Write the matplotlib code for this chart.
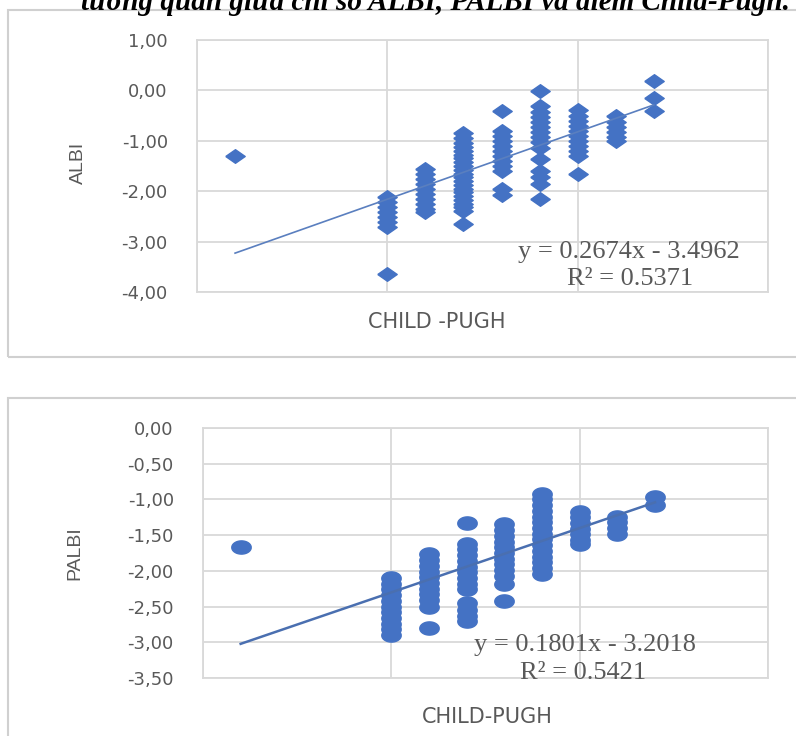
import numpy as np
import matplotlib
matplotlib.use('Agg')
import matplotlib.pyplot as plt
from matplotlib.patches import Rectangle

# ---------------- DATA
cp_scores = [1, 5, 6, 7, 8, 9, 10, 11, 12]

albi_groups = [
    [-1.30],
    [-2.12, -2.22, -2.32, -2.42, -2.52, -2.62, -2.72, -3.65],
    [-1.55, -1.65, -1.75, -1.85, -1.95, -2.05, -2.15, -2.25, -2.35, -2.42],
    [-0.85, -0.95, -1.05, -1.12, -1.20, -1.28, -1.35, -1.42, -1.50, -1.58, -1.65,
     -1.72, -1.80, -1.88, -1.95, -2.02, -2.10, -2.18, -2.25, -2.32, -2.40, -2.65],
    [-0.40, -0.80, -0.90, -1.00, -1.10, -1.20, -1.30, -1.40, -1.50, -1.60, -1.95, -2.08],
    [-0.02, -0.30, -0.42, -0.52, -0.62, -0.72, -0.82, -0.92, -1.02, -1.15, -1.37,
     -1.60, -1.72, -1.85, -2.15],
    [-0.38, -0.50, -0.60, -0.70, -0.80, -0.90, -1.00, -1.10, -1.20, -1.30, -1.66],
    [-0.50, -0.62, -0.72, -0.82, -0.92, -1.00],
    [0.18, -0.15, -0.40],
]

palbi_groups = [
    [-1.67],
    [-2.10, -2.18, -2.26, -2.34, -2.42, -2.50, -2.58, -2.66, -2.74, -2.82, -2.90],
    [-1.77, -1.85, -1.93, -2.01, -2.09, -2.17, -2.25, -2.33, -2.41, -2.50, -2.80],
    [-1.33, -1.62, -1.70, -1.78, -1.86, -1.94, -2.02, -2.10, -2.18, -2.25, -2.45,
     -2.55, -2.63, -2.70],
    [-1.35, -1.43, -1.51, -1.59, -1.67, -1.75, -1.83, -1.91, -1.99, -2.07, -2.18, -2.42],
    [-0.93, -1.00, -1.08, -1.16, -1.24, -1.32, -1.40, -1.48, -1.56, -1.64, -1.72,
     -1.80, -1.88, -1.96, -2.04],
    [-1.17, -1.25, -1.33, -1.41, -1.49, -1.57, -1.62],
    [-1.24, -1.32, -1.40, -1.48],
    [-0.96, -1.08],
]

# trend lines as printed on the chart
albi_slope, albi_intercept, albi_r2 = 0.2674, -3.4962, 0.5371
palbi_slope, palbi_intercept, palbi_r2 = 0.1801, -3.2018, 0.5421

albi_yticks = [1.0, 0.0, -1.0, -2.0, -3.0, -4.0]
albi_ytick_labels = ['1,00', '0,00', '-1,00', '-2,00', '-3,00', '-4,00']
palbi_yticks = [0.0, -0.5, -1.0, -1.5, -2.0, -2.5, -3.0, -3.5]
palbi_ytick_labels = ['0,00', '-0,50', '-1,00', '-1,50', '-2,00', '-2,50', '-3,00', '-3,50']

title_text = 'tương quan giữa chỉ số ALBI, PALBI và điểm Child-Pugh.'

# ---------------- STYLE
W, H = 796, 736
blue = '#4472C4'
grid_c = '#d9d9d9'
txt_c = '#595959'

# wide diamond and wide ellipse markers (the picture is stretched sideways)
diamond = [(-1.0, 0.0), (0.0, 0.7), (1.0, 0.0), (0.0, -0.7), (-1.0, 0.0)]
tt = np.linspace(0, 2 * np.pi, 40)
ellipse = list(zip(np.cos(tt), 0.68 * np.sin(tt)))


def fx(px):
    return px / W


def fy(py):
    return 1 - py / H


def flatten(groups):
    xs, ys = [], []
    for s, g in zip(cp_scores, groups):
        xs += [s] * len(g)
        ys += g
    return xs, ys


def setup(ax, yticks, ylabels, ylim):
    ax.set_xlim(0, 15)
    ax.set_ylim(*ylim)
    ax.set_xticks([0, 5, 10, 15])
    ax.set_xticklabels([])
    ax.set_yticks(yticks)
    ax.set_yticklabels(ylabels)
    ax.tick_params(length=0, pad=21, labelsize=13, labelcolor=txt_c)
    ax.grid(True, color=grid_c, lw=1.3)
    ax.set_axisbelow(True)
    for sp in ax.spines.values():
        sp.set_color(grid_c)
        sp.set_linewidth(1.3)


fig = plt.figure(figsize=(W / 100, H / 100), dpi=100)

# chart area boxes
fig.patches.append(Rectangle((fx(8), fy(357)), 1.2, (357 - 10) / H, transform=fig.transFigure,
                             fill=False, ec='#d0d0d0', lw=1.5, clip_on=False))
fig.patches.append(Rectangle((fx(8), -0.2), 1.2, fy(398) + 0.2, transform=fig.transFigure,
                             fill=False, ec='#d0d0d0', lw=1.5, clip_on=False))

# ---------------- ALBI
ax1 = fig.add_axes([fx(197), fy(292), fx(768) - fx(197), fy(40) - fy(292)])
setup(ax1, albi_yticks, albi_ytick_labels, (-4, 1))
x1, y1 = flatten(albi_groups)
ax1.plot(x1, y1, ls='none', marker=diamond, ms=14, color=blue, mec=blue)
xl = np.array([min(cp_scores), max(cp_scores)])
ax1.plot(xl, albi_slope * xl + albi_intercept, color='#5A7FBF', lw=1.2)

fig.text(fx(78), fy(163), 'ALBI', rotation=90, ha='center', va='center', fontsize=14,
         color=txt_c, family='Liberation Sans')
fig.text(fx(437), fy(322), 'CHILD -PUGH', ha='center', va='center', fontsize=15, color=txt_c)
fig.text(fx(629), fy(252), f'y = {albi_slope}x - {abs(albi_intercept)}', ha='center', va='center',
         fontsize=19, color=txt_c, family='Liberation Serif')
fig.text(fx(630), fy(279), f'R² = {albi_r2}', ha='center', va='center',
         fontsize=19, color=txt_c, family='Liberation Serif')

# ---------------- PALBI
ax2 = fig.add_axes([fx(203), fy(678), fx(768) - fx(203), fy(428) - fy(678)])
setup(ax2, palbi_yticks, palbi_ytick_labels, (-3.5, 0))
x2, y2 = flatten(palbi_groups)
ax2.plot(x2, y2, ls='none', marker=ellipse, ms=14, color=blue, mec=blue)
ax2.plot(xl, palbi_slope * xl + palbi_intercept, color='#4A6FB0', lw=1.8)

fig.text(fx(75), fy(553), 'PALBI', rotation=90, ha='center', va='center', fontsize=14,
         color=txt_c, family='Liberation Sans')
fig.text(fx(487), fy(717), 'CHILD-PUGH', ha='center', va='center', fontsize=15, color=txt_c)
fig.text(fx(585), fy(645), f'y = {palbi_slope}x - {abs(palbi_intercept)}', ha='center', va='center',
         fontsize=19, color=txt_c, family='Liberation Serif')
fig.text(fx(583), fy(673), f'R² = {palbi_r2}', ha='center', va='center',
         fontsize=19, color=txt_c, family='Liberation Serif')

# caption, cut off at the top like in the scanned page
fig.text(fx(790), fy(10), title_text, ha='right', va='baseline', fontsize=21,
         fontweight='bold', fontstyle='italic', family='Liberation Serif', color='black')

fig.savefig('out.png', dpi=100)
